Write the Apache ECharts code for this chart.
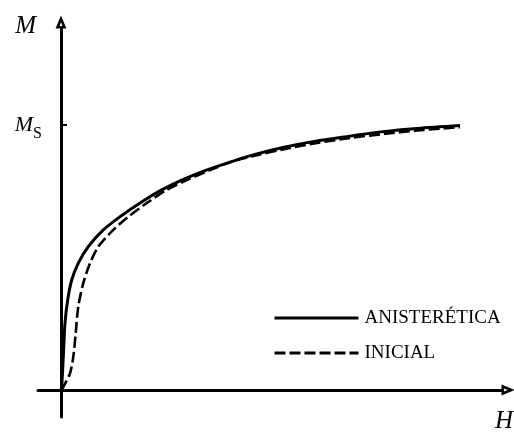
<!DOCTYPE html>
<html><head><meta charset="utf-8">
<script src="https://cdn.jsdelivr.net/npm/echarts@6/dist/echarts.min.js"></script>
<style>html,body{margin:0;padding:0;background:#fff}#c{width:514px;height:433px}</style>
</head><body><div id="c"></div>
<script>
// Field H (arbitrary units) and magnetization M (in units of Ms)
var anhystH = [0, 0.7, 2.3, 4, 6.7, 10.7, 17.3, 27.3, 42.3, 59, 79, 100.7, 120.7, 144, 170.7, 194, 222, 256, 289, 322, 356, 399];
var anhystM = [0, 0.012, 0.126, 0.253, 0.34, 0.415, 0.479, 0.541, 0.604, 0.654, 0.706, 0.755, 0.792, 0.828, 0.862, 0.889, 0.915, 0.94, 0.958, 0.975, 0.987, 0.998];
var initH = [0, 2.3, 9, 12.3, 14.7, 17.3, 22.3, 29, 37.3, 52.3, 67.3, 85.7, 105.7, 125.7, 149, 174, 197, 222, 256, 289, 322, 356, 399];
var initM = [0, 0.012, 0.063, 0.126, 0.214, 0.315, 0.403, 0.478, 0.541, 0.604, 0.654, 0.705, 0.755, 0.792, 0.83, 0.866, 0.887, 0.908, 0.932, 0.951, 0.966, 0.979, 0.992];
var seriesNames = ['ANISTERÉTICA', 'INICIAL'];
var msValue = 1;          // saturation magnetization tick
var mLabelValue = 1.366;  // position of axis title "M"
var hLabelValue = 434;    // position of axis title "H"

function pairs(xs, ys) { return xs.map(function (x, i) { return [x, ys[i]]; }); }

var serif = "'Liberation Serif','Times New Roman',serif";
var arrow = 'path://M5,0 L10,12 L0,12 Z M5,6.3 L3.7,9.6 L6.3,9.6 Z';
var chart = echarts.init(document.getElementById('c'), null, {renderer: 'canvas'});
chart.setOption({
  animation: false,
  backgroundColor: '#fff',
  grid: {left: 38, right: 12, top: 28, bottom: 16, containLabel: false, outerBoundsMode: 'none'},
  legend: {
    orient: 'vertical', left: 268, top: 303, itemWidth: 84, itemHeight: 14, itemGap: 15,
    itemStyle: {opacity: 0},
    lineStyle: {width: 3},
    textStyle: {fontFamily: serif, fontSize: 19, color: '#000', padding: [0, 0, 0, 1], lineHeight: 20},
    data: seriesNames
  },
  xAxis: {
    type: 'value', min: -23, max: 441,
    splitLine: {show: false},
    axisLine: {onZero: true, lineStyle: {color: '#000', width: 3}, symbol: ['none', arrow], symbolSize: [11, 13], symbolOffset: [0, 6]},
    axisTick: {show: false},
    axisLabel: {
      customValues: [hLabelValue], margin: -8, align: 'left',
      formatter: function () { return 'H'; },
      fontFamily: serif, fontStyle: 'italic', fontSize: 25, color: '#000'
    }
  },
  yAxis: {
    type: 'value', min: -0.10189, max: 1.366,
    splitLine: {show: false},
    axisLine: {onZero: true, lineStyle: {color: '#000', width: 3}, symbol: ['none', arrow], symbolSize: [11, 13], symbolOffset: [0, 6]},
    axisTick: {show: true, inside: true, length: 6, customValues: [msValue], lineStyle: {color: '#000', width: 2}},
    axisLabel: {
      customValues: [msValue, mLabelValue], margin: -4,
      formatter: function (v) { return v === msValue ? '{m|M}{s|S}' : '{t|M}'; },
      rich: {
        m: {fontFamily: serif, fontStyle: 'italic', fontSize: 22, color: '#000', verticalAlign: 'bottom'},
        s: {fontFamily: serif, fontSize: 16, color: '#000', verticalAlign: 'bottom', padding: [0, 0, -6, 0]},
        t: {fontFamily: serif, fontStyle: 'italic', fontSize: 25, color: '#000', padding: [0, 6, 3, 0]}
      }
    }
  },
  series: [
    {name: seriesNames[0], type: 'line', data: pairs(anhystH, anhystM), symbol: 'none', smooth: 0.3,
     lineStyle: {color: '#000', width: 3}, itemStyle: {color: '#000'}},
    {name: seriesNames[1], type: 'line', data: pairs(initH, initM), symbol: 'none', smooth: 0.3,
     lineStyle: {color: '#000', width: 2.6, type: [11, 4]}, itemStyle: {color: '#000'}}
  ]
});
</script></body></html>
